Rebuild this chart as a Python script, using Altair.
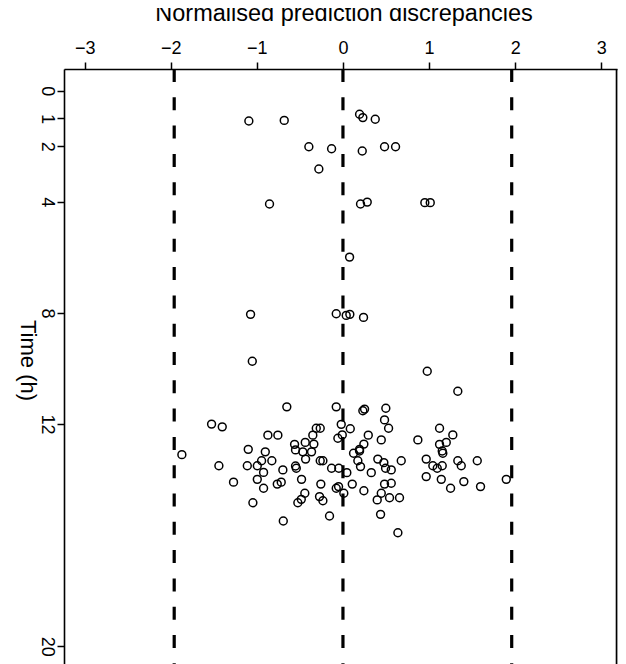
import altair as alt
import pandas as pd

# Observation times (h) and normalised prediction discrepancies (npde)
time_h = [
    1.09, 1.07, 0.85, 0.97, 1.03,
    2.02, 2.09, 2.17, 2.02, 2.02,
    2.82, 4.08, 4.08, 4.01, 4.03,
    4.03, 5.99, 8.05, 8.03, 8.09,
    8.05, 8.16, 9.74, 10.10, 10.82,
    11.38, 11.38, 11.52, 11.46, 11.43,
    12.00, 12.10, 13.10, 13.50, 14.09,
    12.91, 13.50, 12.40, 12.40, 13.00,
    13.32, 13.50, 13.74, 13.32, 13.99,
    14.31, 14.83, 14.16, 14.09, 13.65,
    15.49, 12.73, 12.93, 13.51, 13.59,
    13.99, 12.66, 13.00, 13.26, 13.00,
    12.72, 12.40, 12.15, 12.15, 13.32,
    13.32, 14.16, 14.61, 14.76, 14.49,
    14.71, 14.83, 15.31, 13.59, 13.59,
    14.31, 14.25, 14.49, 13.75, 12.51,
    12.39, 12.01, 12.17, 14.16, 13.05,
    12.97, 13.32, 13.53, 12.72, 12.40,
    13.75, 14.40, 12.91, 11.85, 12.15,
    12.57, 13.26, 13.39, 13.59, 13.65,
    13.32, 14.13, 14.16, 14.49, 14.73,
    14.65, 14.65, 15.25, 15.91, 12.57,
    12.15, 12.39, 12.66, 12.73, 12.97,
    13.05, 13.26, 13.50, 13.59, 13.50,
    13.32, 13.50, 13.32, 13.89, 13.99,
    14.07, 14.31, 14.25, 13.99,
]
npde = [
    -1.093, -0.682, 0.193, 0.231, 0.375,
    -0.396, -0.132, 0.224, 0.483, 0.611,
    -0.280, -0.853, 0.204, 0.282, 0.951,
    1.014, 0.077, -1.073, -0.078, 0.038,
    0.080, 0.239, -1.053, 0.979, 1.334,
    -0.652, -0.078, 0.231, 0.251, 0.498,
    -1.526, -1.402, -1.871, -1.441, -1.271,
    -1.100, -1.111, -0.872, -0.756, -0.902,
    -0.945, -0.995, -0.922, -0.826, -0.995,
    -0.922, -1.046, -0.763, -0.717, -0.698,
    -0.693, -0.562, -0.551, -0.551, -0.542,
    -0.481, -0.438, -0.466, -0.434, -0.365,
    -0.338, -0.350, -0.310, -0.264, -0.264,
    -0.233, -0.257, -0.272, -0.233, -0.443,
    -0.484, -0.524, -0.156, -0.132, -0.048,
    -0.078, -0.051, 0.010, 0.045, -0.059,
    -0.008, -0.020, 0.085, 0.108, 0.123,
    0.193, 0.173, 0.204, 0.243, 0.294,
    0.329, 0.243, 0.193, 0.483, 0.530,
    0.445, 0.405, 0.475, 0.495, 0.561,
    0.677, 0.561, 0.483, 0.445, 0.398,
    0.541, 0.657, 0.437, 0.638, 0.870,
    1.122, 1.276, 1.200, 1.122, 1.153,
    1.160, 0.967, 1.044, 1.095, 1.153,
    1.334, 1.374, 1.560, 0.967, 1.142,
    1.404, 1.250, 1.598, 1.897,
]
assert len(time_h) == len(npde)

ref_lines = [-1.96, 0.0, 1.96]
x_ticks = [-3, -2, -1, 0, 1, 2, 3]
y_ticks = [0, 1, 2, 4, 8, 12, 20]

W, H = 553, 599
FONT = "Liberation Sans"

pts = pd.DataFrame({"npde": npde, "time": time_h})
refs = pd.DataFrame({"x": ref_lines})

x_scale = alt.Scale(domain=[-3.24, 3.183], nice=False, zero=False)
y_scale = alt.Scale(domain=[-0.78, 20.78], nice=False, zero=False, reverse=True)

x_axis = alt.Axis(
    orient="top", values=x_ticks, format="d", grid=False,
    title="Normalised prediction discrepancies",
    titleFontSize=23.5, titleFontWeight="normal", titleFont=FONT, titleColor="black",
    titleX=279.5, titleY=-49, titleBaseline="alphabetic", titleAlign="center",
    labelFont=FONT, labelFontSize=18, labelColor="black",
    labelBaseline="alphabetic", labelPadding=9, labelFlush=False,
    tickSize=7, tickWidth=1.5, tickColor="black",
    domainColor="black", domainWidth=1.6,
)
y_axis = alt.Axis(
    orient="left", values=y_ticks, format="d", grid=False,
    title="Time (h)", titleAngle=90,
    titleFontSize=22, titleFontWeight="normal", titleFont=FONT, titleColor="black",
    titleX=-37, titleY=291, titleBaseline="middle", titleAlign="center",
    labelFont=FONT, labelFontSize=18, labelColor="black", labelAngle=90,
    labelAlign="center", labelBaseline="middle", labelPadding=11, labelFlush=False,
    tickSize=7, tickWidth=1.5, tickColor="black",
    domainColor="black", domainWidth=1.6,
)

rules = alt.Chart(refs).mark_rule(
    color="black", strokeWidth=3.2, strokeDash=[13, 15.3]
).encode(
    x=alt.X("x:Q", scale=x_scale, axis=x_axis),
    y=alt.value(0),
    y2=alt.value(H),
)

frame = alt.Chart(refs.head(1)).mark_rule(color="black", strokeWidth=1.6).encode(
    x=alt.value(W - 0.5), y=alt.value(0), y2=alt.value(H)
)

points = alt.Chart(pts).mark_point(
    shape="circle", filled=False, color="black", strokeWidth=1.5, size=62, opacity=1
).encode(
    x=alt.X("npde:Q", scale=x_scale, axis=x_axis),
    y=alt.Y("time:Q", scale=y_scale, axis=y_axis),
)

chart = alt.layer(rules, points, frame).properties(
    width=W, height=H,
    autosize=alt.AutoSizeParams(type="none"),
    padding={"left": 56, "top": 61, "right": 1, "bottom": 6},
).configure_view(stroke=None).configure(background="white")

chart.save("out.html", embed_options={"renderer": "svg", "actions": False})
